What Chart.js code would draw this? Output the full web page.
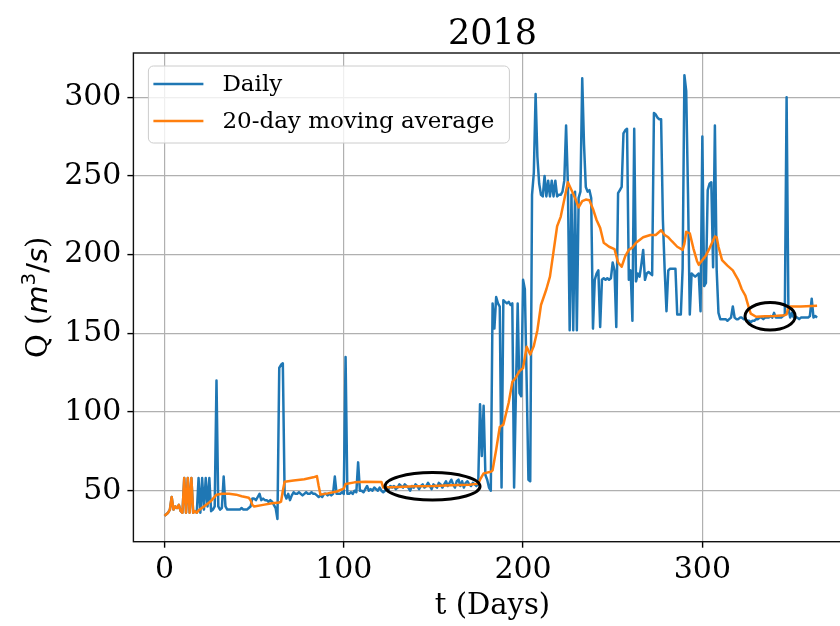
<!DOCTYPE html>
<html>
<head>
<meta charset="utf-8">
<title>Discharge 2018</title>
<script src="https://cdn.jsdelivr.net/npm/chart.js@4.4.1/dist/chart.umd.min.js"></script>
<style>
  html, body { margin: 0; padding: 0; background: #fff; overflow: hidden; }
  #wrap { width: 840px; height: 626px; overflow: hidden; }
</style>
</head>
<body>
<div id="wrap"><canvas id="flow" width="860" height="626"></canvas></div>
<script>
const yearTitle = "2018";
const xTicks = [0, 100, 200, 300];
const yTicks = [50, 100, 150, 200, 250, 300];

// daily discharge Q (m3/s), one value per day from t = 0
const dailyQ = [
  34, 35, 36, 38, 46, 38, 40, 39, 41, 37,
  36, 58, 36, 58, 36, 58, 36, 37, 36, 58,
  36, 58, 38, 58, 40, 58, 37, 38, 40, 120,
  40, 38, 39, 59, 40, 38, 38, 38, 38, 38,
  38, 38, 38, 39, 38, 38, 38, 39, 40, 45,
  45, 44, 46, 48, 44, 45, 44, 44, 43, 44,
  43, 41, 39, 32, 128, 130, 131, 48, 45, 48,
  44, 47, 49, 48, 48, 49, 48, 47, 48, 49,
  48, 48, 49, 48, 48, 47, 46, 47, 46, 48,
  48, 47, 48, 47, 48, 59, 48, 48, 48, 49,
  48, 135, 48, 48, 49, 48, 50, 49, 68, 50,
  50, 49, 51, 53, 50, 51, 50, 52, 51, 50,
  52, 50, 49, 50, 52, 51, 53, 52, 53, 51,
  52, 54, 53, 52, 54, 53, 52, 50, 53, 52,
  54, 53, 51, 53, 54, 52, 53, 55, 53, 51,
  54, 53, 52, 55, 54, 52, 54, 56, 53, 55,
  57, 54, 52, 56, 57, 53, 56, 52, 55, 56,
  54, 53, 55, 54, 53, 55, 105, 72, 104, 60,
  57, 52, 50, 169, 153, 173, 169, 167, 52, 171,
  170, 169, 170, 168, 169, 52, 112, 169, 112, 110,
  184, 178, 120, 57, 56, 238, 252, 302, 262, 245,
  238, 237, 250, 237, 247, 237, 247, 237, 247, 237,
  238, 238, 240, 247, 282, 245, 152, 238, 152, 240,
  152, 236, 240, 312, 270, 243, 240, 241, 236, 153,
  184, 188, 190, 154, 184, 185, 184, 185, 184, 185,
  195, 190, 154, 239, 241, 243, 277, 279, 280, 184,
  190, 158, 280, 183, 188, 186, 194, 203, 184, 188,
  189, 188, 187, 290, 289, 287, 286, 286, 222, 190,
  164, 190, 191, 191, 191, 191, 162, 162, 162, 191,
  314, 304, 239, 162, 188, 187, 186, 187, 188, 164,
  275, 180, 182, 241, 245, 246, 192, 282, 190, 163,
  159, 159, 159, 159, 158, 159, 160, 167, 160, 159,
  159, 160, 160, 159, 159, 158, 158, 157, 158, 158,
  159, 159, 160, 160, 159, 160, 160, 160, 161, 160,
  163, 160, 160, 160, 160, 161, 162, 300, 166, 160,
  163, 160, 160, 160, 159, 160, 160, 160, 160, 160,
  161, 172, 160, 161, 160
];

// 20-day moving average, as (t, Q) pairs
const avgDay = [
  0, 1, 2, 3, 4, 5, 6, 7, 8, 9, 10, 11, 12, 13, 14, 15, 16, 17, 18,
  19, 22, 26, 29, 32, 36, 40, 43, 47, 48, 49, 50, 55, 60, 64, 65, 66, 67,
  72, 78, 83, 85, 86, 87, 91, 96, 100, 101, 106, 112, 121, 122, 130, 140,
  150, 160, 170, 175, 176, 178, 182, 183, 185, 187, 189, 192, 194, 196,
  198, 200, 202, 204, 206, 208, 210, 213, 215, 217, 219, 221, 223, 225,
  227, 229, 231, 233, 235, 237, 239, 241, 243, 245, 248, 251, 253, 255,
  257, 259, 261, 263, 267, 271, 274, 277, 279, 281, 283, 286, 289, 290,
  291, 293, 295, 297, 298, 300, 302, 304, 307, 308, 309, 311, 314, 317,
  320, 322, 324, 326, 327, 330, 335, 340, 346, 347, 348, 355, 364
];
const avgQ = [
  34, 35, 36, 38, 46, 38, 40, 39, 41, 37, 36, 58, 36, 58, 36, 58, 36, 37, 36,
  37.5, 40, 43.5, 47.5, 48, 48, 47.5, 46.5, 45.5, 44, 41, 40, 41, 42, 42.5, 43, 50, 55.7,
  56.5, 57.3, 58.5, 59.3, 53, 47.5, 48.3, 49.5, 51.3, 54.3, 55.3, 55.7, 55.6, 52, 52.3, 52.8,
  53, 53.5, 53.8, 54.5, 57, 61, 62, 63, 76, 90.5, 92, 106, 119, 122,
  126, 128, 141.5, 136.5, 142, 152, 168, 178, 186, 202, 218, 224, 235, 246,
  241, 236, 230, 234, 235, 234.5, 229, 222, 217, 207.5, 205, 203.5, 195, 192.3,
  199, 203, 204.5, 207.5, 211, 212.5, 212.5, 215.5, 212.5, 211, 208.5, 205, 203, 207,
  214.5, 213.5, 204, 196, 193.5, 196.5, 199.5, 204, 211.5, 211, 205, 196.5, 193, 190,
  184, 178, 174, 166, 162.5, 160.5, 160.8, 161, 161.5, 162, 167, 167, 167.5
];

// circled stretches: centre (t, Q) and full extent in data units
const circledDay = [149.5, 337.8];
const circledQ = [52.8, 160.8];
const circledSpanDays = [53, 28];
const circledSpanQ = [17.4, 17.4];

const serif = "'DejaVu Serif', 'Liberation Serif', serif";
const sans = "'DejaVu Sans', sans-serif";
const gridColor = "#b0b0b0";

// frame, circles, legend and all the titles are painted on top of the lines
const overlay = {
  id: "overlay",
  afterDatasetsDraw(chart) {
    const { ctx, chartArea: a, scales } = chart;
    const xs = scales.x, ys = scales.y;
    ctx.save();

    ctx.strokeStyle = "#000";
    ctx.lineWidth = 3;
    circledDay.forEach((t, i) => {
      const cx = xs.getPixelForValue(t);
      const cy = ys.getPixelForValue(circledQ[i]);
      const rx = Math.abs(xs.getPixelForValue(t + circledSpanDays[i] / 2) - cx);
      const ry = Math.abs(ys.getPixelForValue(circledQ[i] + circledSpanQ[i] / 2) - cy);
      ctx.beginPath();
      ctx.ellipse(cx, cy, rx, ry, 0, 0, 2 * Math.PI);
      ctx.stroke();
    });

    ctx.lineWidth = 1.4;
    ctx.strokeStyle = "#111";
    ctx.strokeRect(a.left, a.top, a.right - a.left, a.bottom - a.top);

    // legend box
    const lx = a.left + 15, ly = a.top + 13, lw = 361, lh = 77;
    ctx.beginPath();
    ctx.roundRect(lx, ly, lw, lh, 5);
    ctx.fillStyle = "rgba(255,255,255,0.8)";
    ctx.fill();
    ctx.lineWidth = 1;
    ctx.strokeStyle = "#cccccc";
    ctx.stroke();
    ctx.font = "23px " + serif;
    ctx.textBaseline = "middle";
    ctx.textAlign = "left";
    chart.data.datasets.forEach((ds, i) => {
      const ry = ly + 18 + i * 37;
      ctx.strokeStyle = ds.borderColor;
      ctx.lineWidth = 2.5;
      ctx.beginPath();
      ctx.moveTo(lx + 5, ry);
      ctx.lineTo(lx + 55, ry);
      ctx.stroke();
      ctx.fillStyle = "#000";
      ctx.fillText(ds.label, lx + 74, ry + 1);
    });

    const midX = (a.left + a.right) / 2;
    ctx.fillStyle = "#000";
    ctx.textBaseline = "alphabetic";
    ctx.textAlign = "center";
    ctx.font = "35px " + serif;
    ctx.fillText(yearTitle, midX, 44);
    ctx.font = "29px " + serif;
    ctx.fillText("t (Days)", midX, 614);

    // Q (m^3/s) with the unit set like mathtext
    const parts = [
      { s: "Q (", f: "29px " + serif, dy: 0 },
      { s: "m", f: "italic 29px " + sans, dy: 0 },
      { s: "3", f: "20px " + sans, dy: -12 },
      { s: "/", f: "29px " + sans, dy: 0 },
      { s: "s", f: "italic 29px " + sans, dy: 0 },
      { s: ")", f: "29px " + serif, dy: 0 }
    ];
    let total = 0;
    parts.forEach(p => { ctx.font = p.f; p.w = ctx.measureText(p.s).width; total += p.w; });
    ctx.translate(47, (a.top + a.bottom) / 2);
    ctx.rotate(-Math.PI / 2);
    ctx.textAlign = "left";
    let px = -total / 2;
    parts.forEach(p => {
      ctx.font = p.f;
      ctx.fillText(p.s, px, p.dy);
      px += p.w;
    });
    ctx.restore();
  }
};

const tickFont = { family: serif, size: 30 };

new Chart(document.getElementById("flow"), {
  type: "line",
  data: {
    datasets: [
      {
        label: "Daily",
        data: dailyQ.map((q, t) => ({ x: t, y: q })),
        borderColor: "#1f77b4",
        borderWidth: 2.5,
        order: 1
      },
      {
        label: "20-day moving average",
        data: avgDay.map((t, i) => ({ x: t, y: avgQ[i] })),
        borderColor: "#ff7f0e",
        borderWidth: 2.5,
        order: 0
      }
    ]
  },
  options: {
    responsive: false,
    animation: false,
    devicePixelRatio: 1,
    layout: { padding: { top: 53, right: 8.5, left: 0, bottom: 0 } },
    elements: {
      point: { radius: 0 },
      line: { tension: 0, borderJoinStyle: "round", fill: false }
    },
    plugins: {
      legend: { display: false },
      tooltip: { enabled: false },
      title: { display: false }
    },
    scales: {
      x: {
        type: "linear",
        min: -17.35,
        max: 383.2,
        afterFit: s => { s.height = 84.3; },
        afterBuildTicks: s => { s.ticks = xTicks.map(v => ({ value: v })); },
        grid: { color: gridColor, lineWidth: 1.2, tickLength: 6, tickColor: "#000", tickWidth: 1.4 },
        border: { display: false },
        ticks: { font: tickFont, color: "#000", padding: 5, maxRotation: 0, autoSkip: false }
      },
      y: {
        type: "linear",
        min: 17.6,
        max: 328.1,
        afterFit: s => { s.width = 133.4; },
        afterBuildTicks: s => { s.ticks = yTicks.map(v => ({ value: v })); },
        grid: { color: gridColor, lineWidth: 1.2, tickLength: 6, tickColor: "#000", tickWidth: 1.4 },
        border: { display: false },
        ticks: { font: tickFont, color: "#000", padding: 6 }
      }
    }
  },
  plugins: [overlay]
});
</script>
</body>
</html>
